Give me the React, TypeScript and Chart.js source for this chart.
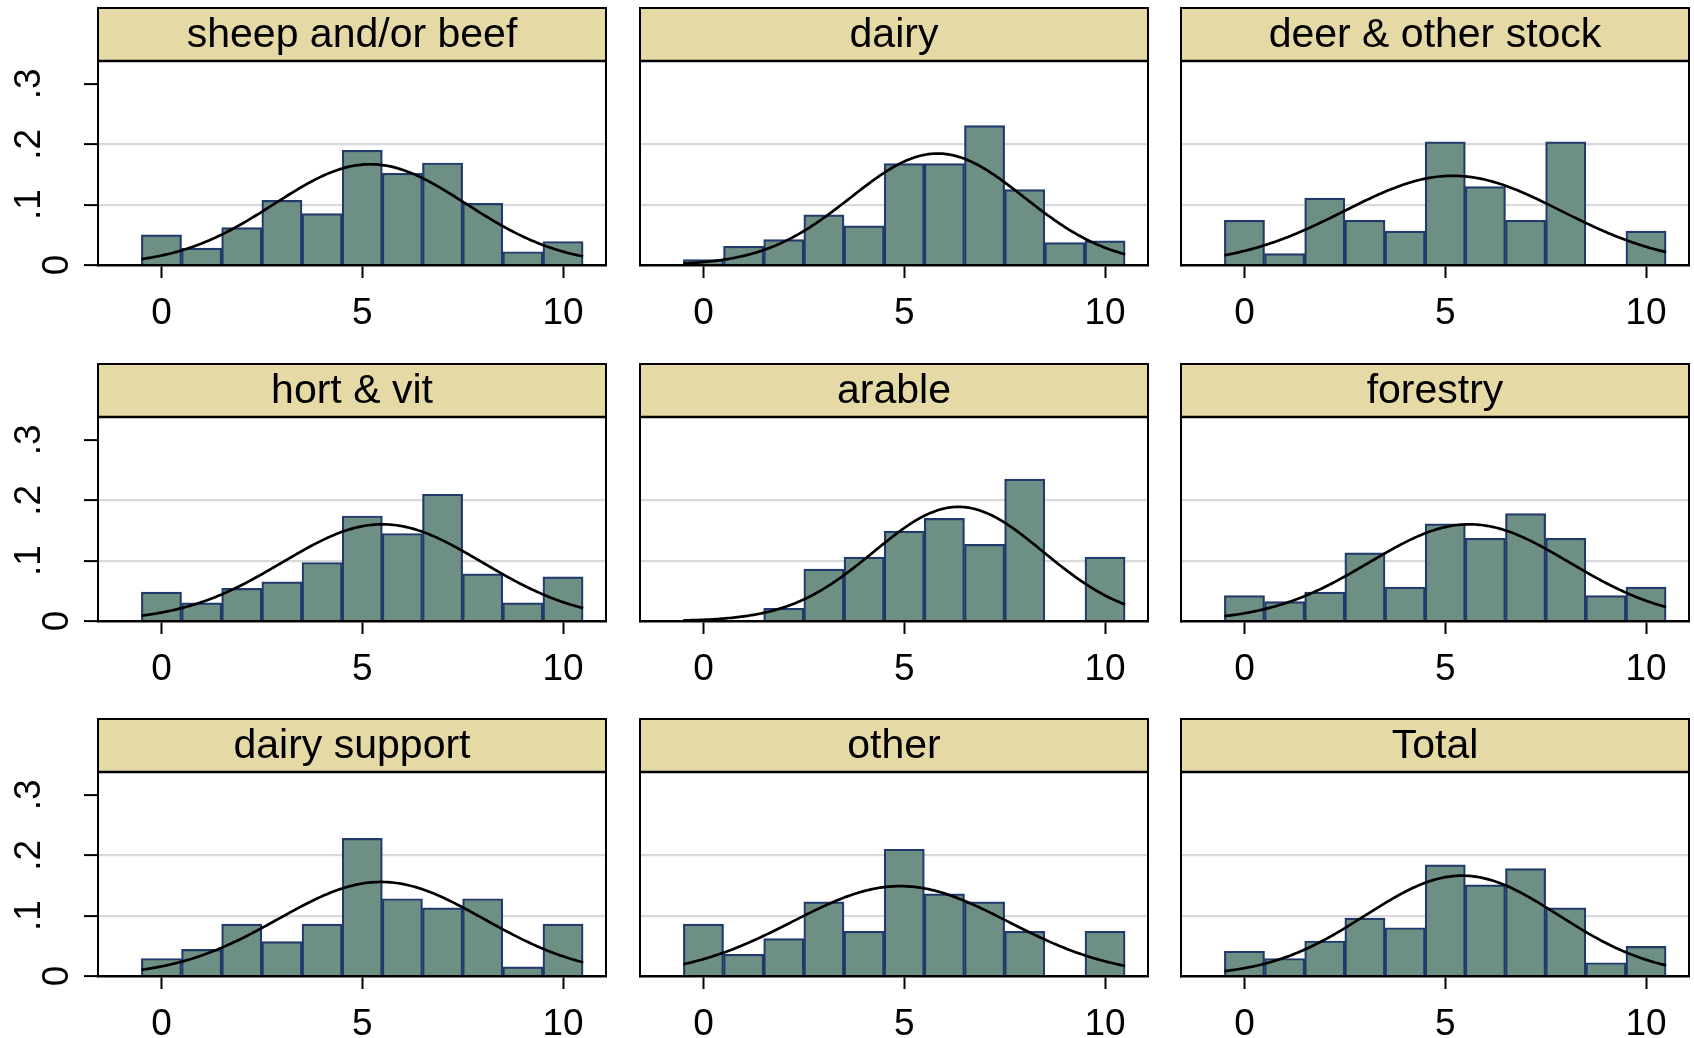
import React, { useEffect, useRef } from 'react';
import { Chart, registerables } from 'chart.js';

Chart.register(...registerables);

// ---------- data ----------
const panelTitles = [
  'sheep and/or beef', 'dairy', 'deer & other stock',
  'hort & vit', 'arable', 'forestry',
  'dairy support', 'other', 'Total',
];
const binCenters = [0, 1, 2, 3, 4, 5, 6, 7, 8, 9, 10];

const sheepBeef = [0.050, 0.028, 0.062, 0.107, 0.085, 0.190, 0.152, 0.169, 0.102, 0.022, 0.039];
const dairy = [0.009, 0.031, 0.042, 0.083, 0.065, 0.168, 0.168, 0.231, 0.125, 0.037, 0.040];
const deerOther = [0.074, 0.019, 0.111, 0.074, 0.056, 0.204, 0.130, 0.074, 0.204, 0, 0.056];
const hortVit = [0.048, 0.030, 0.054, 0.065, 0.097, 0.174, 0.145, 0.210, 0.078, 0.030, 0.073];
const arable = [0, 0, 0.021, 0.086, 0.106, 0.149, 0.170, 0.127, 0.235, 0, 0.106];
const forestry = [0.042, 0.032, 0.048, 0.113, 0.056, 0.161, 0.137, 0.178, 0.137, 0.042, 0.056];
const dairySupport = [0.029, 0.044, 0.086, 0.057, 0.086, 0.228, 0.128, 0.113, 0.128, 0.015, 0.086];
const other = [0.086, 0.036, 0.062, 0.123, 0.074, 0.210, 0.136, 0.123, 0.074, 0, 0.074];
const total = [0.041, 0.029, 0.058, 0.096, 0.080, 0.184, 0.151, 0.178, 0.113, 0.022, 0.049];

const panelValues = [sheepBeef, dairy, deerOther, hortVit, arable, forestry, dairySupport, other, total];

const normalMeans = [5.2, 5.83, 5.19, 5.5, 6.35, 5.6, 5.47, 4.9, 5.42];
const normalSDs = [2.39, 2.16, 2.70, 2.49, 2.11, 2.49, 2.56, 2.68, 2.40];

const xTickValues = [0, 5, 10];
const yTickValues = [0, 0.1, 0.2, 0.3];
const yTickLabels = ['0', '.1', '.2', '.3'];
const yGridValues = [0.1, 0.2];

// ---------- layout / style ----------
const FONT = '"Liberation Sans", Arial, Helvetica, sans-serif';
const PLOT_LEFTS = [98, 640, 1181];
const PLOT_TOPS = [61, 417, 772];
const PLOT_W = 508;
const PLOT_H = 204;
const HEADER_H = 53;
const TOP_PAD = 6;
const X_MIN = -1.58;
const X_MAX = 11.07;
const Y_MAX = 0.338;

const HEADER_FILL = '#E5D9A6';
const BAR_FILL = '#6E8F83';
const BAR_EDGE = '#22396B';
const GRID_COLOR = '#D9D9D9';

const framePlugin = {
  id: 'frame',
  afterDraw(chart: any, _args: any, opts: any) {
    const { ctx, chartArea: ca } = chart;
    ctx.save();
    const hy = ca.top - HEADER_H;
    // header box
    ctx.fillStyle = HEADER_FILL;
    ctx.fillRect(ca.left, hy, ca.right - ca.left, HEADER_H);
    ctx.strokeStyle = '#000';
    ctx.lineWidth = 2;
    ctx.strokeRect(ca.left, hy, ca.right - ca.left, HEADER_H);
    // plot top line
    ctx.lineWidth = 2.5;
    ctx.beginPath();
    ctx.moveTo(ca.left - 1, ca.top);
    ctx.lineTo(ca.right + 1, ca.top);
    ctx.stroke();
    // right frame line
    ctx.lineWidth = 2;
    ctx.beginPath();
    ctx.moveTo(ca.right, ca.top);
    ctx.lineTo(ca.right, ca.bottom);
    ctx.stroke();
    // title
    ctx.fillStyle = '#000';
    ctx.font = `41px ${FONT}`;
    ctx.textAlign = 'center';
    ctx.textBaseline = 'alphabetic';
    ctx.fillText(opts.title, (ca.left + ca.right) / 2, hy + 39);
    // rotated y labels
    if (opts.showY) {
      const ys = chart.scales.y;
      ctx.font = `37px ${FONT}`;
      yTickValues.forEach((v, i) => {
        const label = yTickLabels[i];
        const py = ys.getPixelForValue(v);
        const bx = label === '0' ? ca.left - 30 : ca.left - 58;
        ctx.save();
        ctx.translate(bx, py);
        ctx.rotate(-Math.PI / 2);
        ctx.textAlign = 'center';
        ctx.textBaseline = 'alphabetic';
        ctx.fillText(label, 0, 0);
        ctx.restore();
      });
    }
    ctx.restore();
  },
};

function normalCurve(mean: number, sd: number) {
  const pts: { x: number; y: number }[] = [];
  for (let k = 0; k <= 220; k++) {
    const x = -0.5 + k * 0.05;
    const z = (x - mean) / sd;
    pts.push({ x, y: Math.exp(-0.5 * z * z) / (sd * Math.sqrt(2 * Math.PI)) });
  }
  return pts;
}

function Panel({ idx }: { idx: number }) {
  const ref = useRef<HTMLCanvasElement>(null);
  const col = idx % 3;
  const row = Math.floor(idx / 3);
  const yAxisW = col === 0 ? 98 : 6;
  const xAxisH = row === 2 ? 60 : 75;
  const plotLeft = PLOT_LEFTS[col];
  const plotTop = PLOT_TOPS[row];
  const canvasLeft = plotLeft - yAxisW;
  const canvasTop = plotTop - HEADER_H - TOP_PAD;
  const W = yAxisW + PLOT_W + 5;
  const H = TOP_PAD + HEADER_H + PLOT_H + xAxisH;

  useEffect(() => {
    if (!ref.current) return;
    const vals = panelValues[idx];
    const chart = new Chart(ref.current, {
      type: 'bar',
      data: {
        datasets: [
          {
            type: 'line',
            data: normalCurve(normalMeans[idx], normalSDs[idx]),
            borderColor: '#000',
            borderWidth: 2.7,
            pointRadius: 0,
            fill: false,
            tension: 0,
            order: 0,
          } as any,
          {
            type: 'bar',
            data: binCenters.map((x, i) => ({ x, y: vals[i] > 0 ? vals[i] : null })),
            backgroundColor: BAR_FILL,
            borderColor: BAR_EDGE,
            borderWidth: 2.2,
            borderSkipped: 'start',
            barPercentage: 1,
            categoryPercentage: 1,
            order: 1,
          } as any,
        ],
      },
      options: {
        responsive: false,
        animation: false,
        events: [],
        layout: { padding: { top: TOP_PAD + HEADER_H, right: 5, left: 0, bottom: 0 } },
        plugins: {
          legend: { display: false },
          tooltip: { enabled: false },
          frame: { title: panelTitles[idx], showY: col === 0 },
        } as any,
        scales: {
          x: {
            type: 'linear',
            min: X_MIN,
            max: X_MAX,
            bounds: 'data',
            offset: false,
            afterBuildTicks: (s: any) => {
              s.ticks = xTickValues.map((v) => ({ value: v }));
            },
            afterFit: (s: any) => {
              s.height = xAxisH;
            },
            grid: {
              offset: false,
              drawOnChartArea: false,
              drawTicks: true,
              tickLength: 13,
              tickColor: '#000',
              tickWidth: 2,
            },
            border: { display: true, color: '#000', width: 2.5 },
            ticks: {
              color: '#000',
              font: { family: FONT, size: 37 },
              padding: 14,
              maxRotation: 0,
              minRotation: 0,
              autoSkip: false,
              callback: (v: any) => String(v),
            },
          },
          y: {
            type: 'linear',
            min: 0,
            max: Y_MAX,
            bounds: 'data',
            afterBuildTicks: (s: any) => {
              s.ticks = yTickValues.map((v) => ({ value: v }));
            },
            afterFit: (s: any) => {
              s.width = yAxisW;
            },
            grid: {
              color: (c: any) =>
                c.tick && yGridValues.includes(c.tick.value) ? GRID_COLOR : 'rgba(0,0,0,0)',
              lineWidth: 2.2,
              drawTicks: col === 0,
              tickLength: 14,
              tickColor: '#000',
              tickWidth: 2,
            },
            border: { display: true, color: '#000', width: 2 },
            ticks: { display: false },
          },
        },
      } as any,
      plugins: [framePlugin],
    });
    return () => chart.destroy();
  }, [idx]);

  return (
    <canvas
      ref={ref}
      width={W}
      height={H}
      style={{ position: 'absolute', left: canvasLeft, top: canvasTop, width: W, height: H, display: 'block' }}
    />
  );
}

export default function App() {
  return (
    <div
      style={{
        position: 'absolute',
        left: 0,
        top: 0,
        width: 1694,
        height: 1038,
        overflow: 'hidden',
        background: '#ffffff',
      }}
    >
      {panelTitles.map((_, i) => (
        <Panel key={i} idx={i} />
      ))}
    </div>
  );
}
